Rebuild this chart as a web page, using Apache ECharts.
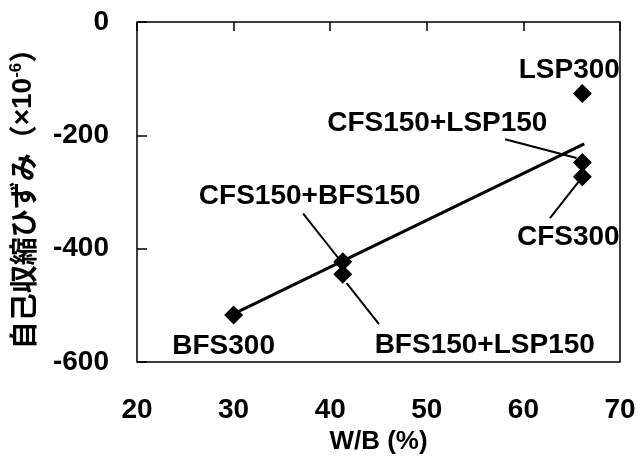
<!DOCTYPE html>
<html>
<head>
<meta charset="utf-8">
<script src="https://cdn.jsdelivr.net/npm/echarts@6/dist/echarts.min.js"></script>
<style>
html,body{margin:0;padding:0;background:#fff;}
#main{width:638px;height:465px;}
</style>
</head>
<body>
<div id="main"></div>
<script>
// 各配合の W/B と自己収縮ひずみ
var names = ['BFS300','CFS150+BFS150','BFS150+LSP150','LSP300','CFS150+LSP150','CFS300'];
var wb = [30, 41.3, 41.3, 66.1, 66.1, 66.1];
var strain = [-517, -423, -445, -126, -248, -273];

// 近似直線の両端
var fitX = [30, 66.3];
var fitY = [-515, -215];

// ラベル位置（マーカーからのずれ px）
var labelDx = [-10, -33, 142, -13, -145, -14];
var labelDy = [31, -65, 71, -23, -39, 61];

// 引出線 [x1,y1,x2,y2]
var leaders = [
    [58.1, -207, 65.5, -240],
    [62.75, -346, 65.7, -282],
    [37.2, -338, 41.0, -420],
    [41.7, -461, 45.05, -533]
];

var xTicks = [20, 30, 40, 50, 60, 70];
var yTicks = [0, -200, -400, -600];

var font = 'Liberation Sans, Arial, sans-serif';
var cjk = '"Noto Sans CJK JP", sans-serif';

var pts = [];
for (var i = 0; i < names.length; i++) {
    pts.push({
        value: [wb[i], strain[i]],
        name: names[i],
        label: {offset: [labelDx[i], labelDy[i]]}
    });
}

var series = [{
    type: 'line',
    data: [[fitX[0], fitY[0]], [fitX[1], fitY[1]]],
    symbol: 'none',
    lineStyle: {color: '#000', width: 3},
    z: 2,
    silent: true
}];
for (var j = 0; j < leaders.length; j++) {
    series.push({
        type: 'line',
        data: [[leaders[j][0], leaders[j][1]], [leaders[j][2], leaders[j][3]]],
        symbol: 'none',
        lineStyle: {color: '#000', width: 2},
        z: 2,
        silent: true
    });
}
series.push({
    type: 'scatter',
    data: pts,
    symbol: 'diamond',
    symbolSize: 19,
    itemStyle: {color: '#000', opacity: 1},
    z: 5,
    label: {
        show: true,
        position: 'inside',
        formatter: '{b}',
        color: '#000',
        opacity: 1,
        textBorderWidth: 0,
        fontFamily: font,
        fontWeight: 'bold',
        fontSize: 28
    }
});

var myChart = echarts.init(document.getElementById('main'));
myChart.setOption({
    backgroundColor: '#fff',
    animation: false,
    grid: {
        left: 137,
        right: 18,
        top: 22,
        bottom: 103,
        outerBoundsMode: 'none',
        containLabel: false,
        show: true,
        borderColor: '#000',
        borderWidth: 1.5
    },
    xAxis: [{
        type: 'value',
        min: 20,
        max: 70,
        interval: 10,
        position: 'bottom',
        name: 'W/B (%)',
        nameLocation: 'middle',
        nameGap: 58,
        nameTextStyle: {color: '#000', fontFamily: font, fontWeight: 'bold', fontSize: 26},
        axisLine: {show: false},
        axisTick: {show: false},
        splitLine: {show: false},
        axisLabel: {
            color: '#000', fontFamily: font, fontWeight: 'bold', fontSize: 28, margin: 34,
            formatter: function (v) { return xTicks.indexOf(v) >= 0 ? v : ''; }
        }
    }, {
        type: 'value',
        min: 20,
        max: 70,
        interval: 10,
        position: 'top',
        axisLine: {show: false},
        axisTick: {show: true, inside: true, length: 9, lineStyle: {color: '#000', width: 1.5}},
        axisLabel: {show: false},
        splitLine: {show: false}
    }],
    yAxis: {
        type: 'value',
        min: -600,
        max: 0,
        interval: 200,
        name: '{a|自己収縮ひずみ（}{b|×10}{s|-6}{a|）}',
        nameLocation: 'middle',
        nameGap: 99,
        nameTextStyle: {
            rich: {
                a: {color: '#000', fontFamily: cjk, fontWeight: 'bold', fontSize: 28, lineHeight: 30},
                b: {color: '#000', fontFamily: font, fontWeight: 'bold', fontSize: 28, lineHeight: 30},
                s: {color: '#000', fontFamily: font, fontWeight: 'bold', fontSize: 17, lineHeight: 30, verticalAlign: 'top'}
            }
        },
        axisLine: {show: false},
        axisTick: {show: true, inside: true, length: 10, lineStyle: {color: '#000', width: 1.5}},
        splitLine: {show: false},
        axisLabel: {
            color: '#000', fontFamily: font, fontWeight: 'bold', fontSize: 28, margin: 28,
            formatter: function (v) { return yTicks.indexOf(v) >= 0 ? v : ''; }
        }
    },
    series: series
});
</script>
</body>
</html>
